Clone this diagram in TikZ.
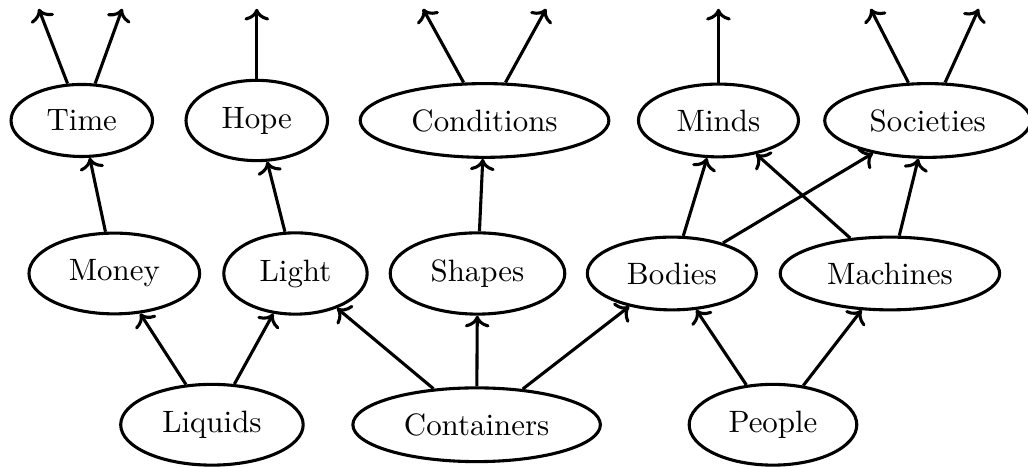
\documentclass[tikz,border=0pt]{standalone}
\usepackage{tikz}
\usetikzlibrary{shapes.geometric, arrows.meta}

\begin{document}
\begin{tikzpicture}[
    concept/.style={ellipse, draw, line width=1pt, inner sep=4.8pt},
    link/.style={->, line width=1pt}
]
\useasboundingbox (0,0) rectangle (11.69,5.31);

% Top row
\node[concept] (time) at (0.93,3.94) {Time};
\node[concept] (hope) at (2.92,3.94) {Hope};
\node[concept] (conditions) at (5.51,3.94) {Conditions};
\node[concept] (minds) at (8.17,3.94) {Minds};
\node[concept] (societies) at (10.55,3.94) {Societies};

% Middle row
\node[concept] (money) at (1.30,2.20) {Money};
\node[concept] (light) at (3.36,2.20) {Light};
\node[concept] (shapes) at (5.43,2.20) {Shapes};
\node[concept] (bodies) at (7.64,2.20) {Bodies};
\node[concept] (machines) at (10.12,2.20) {Machines};

% Bottom row
\node[concept] (liquids) at (2.41,0.48) {Liquids};
\node[concept] (containers) at (5.42,0.48) {Containers};
\node[concept] (people) at (8.79,0.48) {People};

% Free ends at the top
\coordinate (timeL) at (0.44,5.21);
\coordinate (timeR) at (1.39,5.21);
\coordinate (hopeU) at (2.92,5.21);
\coordinate (condL) at (4.81,5.21);
\coordinate (condR) at (6.21,5.21);
\coordinate (mindsU) at (8.17,5.21);
\coordinate (socL) at (9.90,5.21);
\coordinate (socR) at (11.13,5.21);

% Connections
\draw[link] (time) -- (timeL);
\draw[link] (time) -- (timeR);
\draw[link] (hope) -- (hopeU);
\draw[link] (conditions) -- (condL);
\draw[link] (conditions) -- (condR);
\draw[link] (minds) -- (mindsU);
\draw[link] (societies) -- (socL);
\draw[link] (societies) -- (socR);

\draw[link] (money) -- (time);
\draw[link] (light) -- (hope);
\draw[link] (shapes) -- (conditions);
\draw[link] (bodies) -- (minds);
\draw[link] (bodies) -- (societies);
\draw[link] (machines) -- (minds);
\draw[link] (machines) -- (societies);

\draw[link] (liquids) -- (money);
\draw[link] (liquids) -- (light);
\draw[link] (containers) -- (light);
\draw[link] (containers) -- (shapes);
\draw[link] (containers) -- (bodies);
\draw[link] (people) -- (bodies);
\draw[link] (people) -- (machines);

\end{tikzpicture}
\end{document}
